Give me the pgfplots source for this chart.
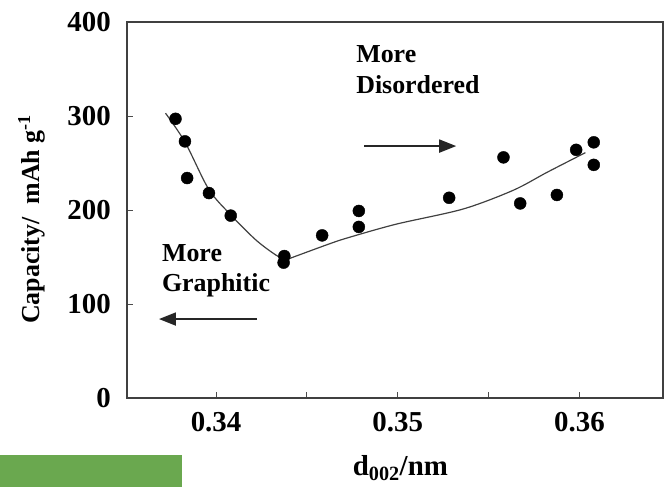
\documentclass[border=0pt]{standalone}
\usepackage{fontspec}
\setmainfont{Liberation Serif}
\usepackage{pgfplots}
\pgfplotsset{compat=1.18}
\usetikzlibrary{arrows.meta}
\definecolor{gbar}{RGB}{106,168,79}
\begin{document}
\begin{tikzpicture}
\begin{axis}[
  at={(0,0)}, anchor=south west,
  scale only axis, width=536bp, height=376bp,
  xmin=0.3351, xmax=0.3646, ymin=0, ymax=400,
  axis line style={line width=1.2pt, black!75},
  xtick={0.34,0.35,0.36}, xticklabels={0.34,0.35,0.36},
  minor xtick={0.345,0.355},
  ytick={0,100,200,300,400}, yticklabels={0,100,200,300,400},
  tick align=inside, major tick length=6bp, minor tick length=6bp,
  tick style={line width=0.8pt, black!70},
  xtick pos=bottom, ytick pos=left,
  ticklabel style={font=\fontsize{29}{30}\selectfont\bfseries, inner sep=0pt},
  xticklabel style={yshift=-14bp},
  yticklabel style={xshift=-16bp},
  xlabel={d\textsubscript{002}/nm},
  xlabel style={font=\fontsize{29}{30}\selectfont\bfseries, at={(axis description cs:0.51,0)}, anchor=center, yshift=-70bp},
  ylabel={Capacity/\ \ mAh g\textsuperscript{-1}},
  ylabel style={font=\fontsize{26}{28}\selectfont\bfseries, at={(axis description cs:-0.178,0.475)}, anchor=center},
  clip=false,
]
% fitted curve (two smooth branches meeting at the minimum)
\addplot[smooth, line width=1.2pt, black!75, no marks] coordinates {
  (0.33722,303) (0.3383,272) (0.3396,222) (0.3408,195) (0.3422,168) (0.3433,152) (0.34385,147)
};
\addplot[smooth, line width=1.2pt, black!75, no marks] coordinates {
  (0.34385,147) (0.34624,164) (0.34735,171) (0.34993,185) (0.35359,201) (0.35636,221) (0.35821,240) (0.36033,261)
};
% data points
\addplot[only marks, mark=*, mark size=6bp, black] coordinates {
  (0.33777,297) (0.33829,273) (0.33841,234) (0.33961,218) (0.34081,194)
  (0.34376,151) (0.34372,144) (0.34584,173) (0.34786,199) (0.34786,182)
  (0.35283,213) (0.35582,256) (0.35674,207) (0.35876,216) (0.35982,264)
  (0.36079,272) (0.36079,248)
};
\draw[line width=1.8bp, black!85, -{Triangle[length=17bp,width=13bp]}] (axis cs:0.34815,268) -- (axis cs:0.35322,268);
\draw[line width=1.8bp, black!85, -{Triangle[length=17bp,width=13bp]}] (axis cs:0.34226,84) -- (axis cs:0.33686,84);
\node[anchor=north west, align=left, inner sep=0pt, font=\fontsize{26}{31}\selectfont\bfseries] at (axis cs:0.34771,375) {More\\Disordered};
\node[anchor=north west, align=left, inner sep=0pt, font=\fontsize{26}{31}\selectfont\bfseries] at (axis cs:0.33702,164) {More\\Graphitic};
\end{axis}
\fill[gbar] (-127bp,-57bp) rectangle (55bp,-89bp);
\pgfresetboundingbox
\path[use as bounding box] (-127bp,-89bp) rectangle (540bp,398bp);
\end{tikzpicture}
\end{document}
